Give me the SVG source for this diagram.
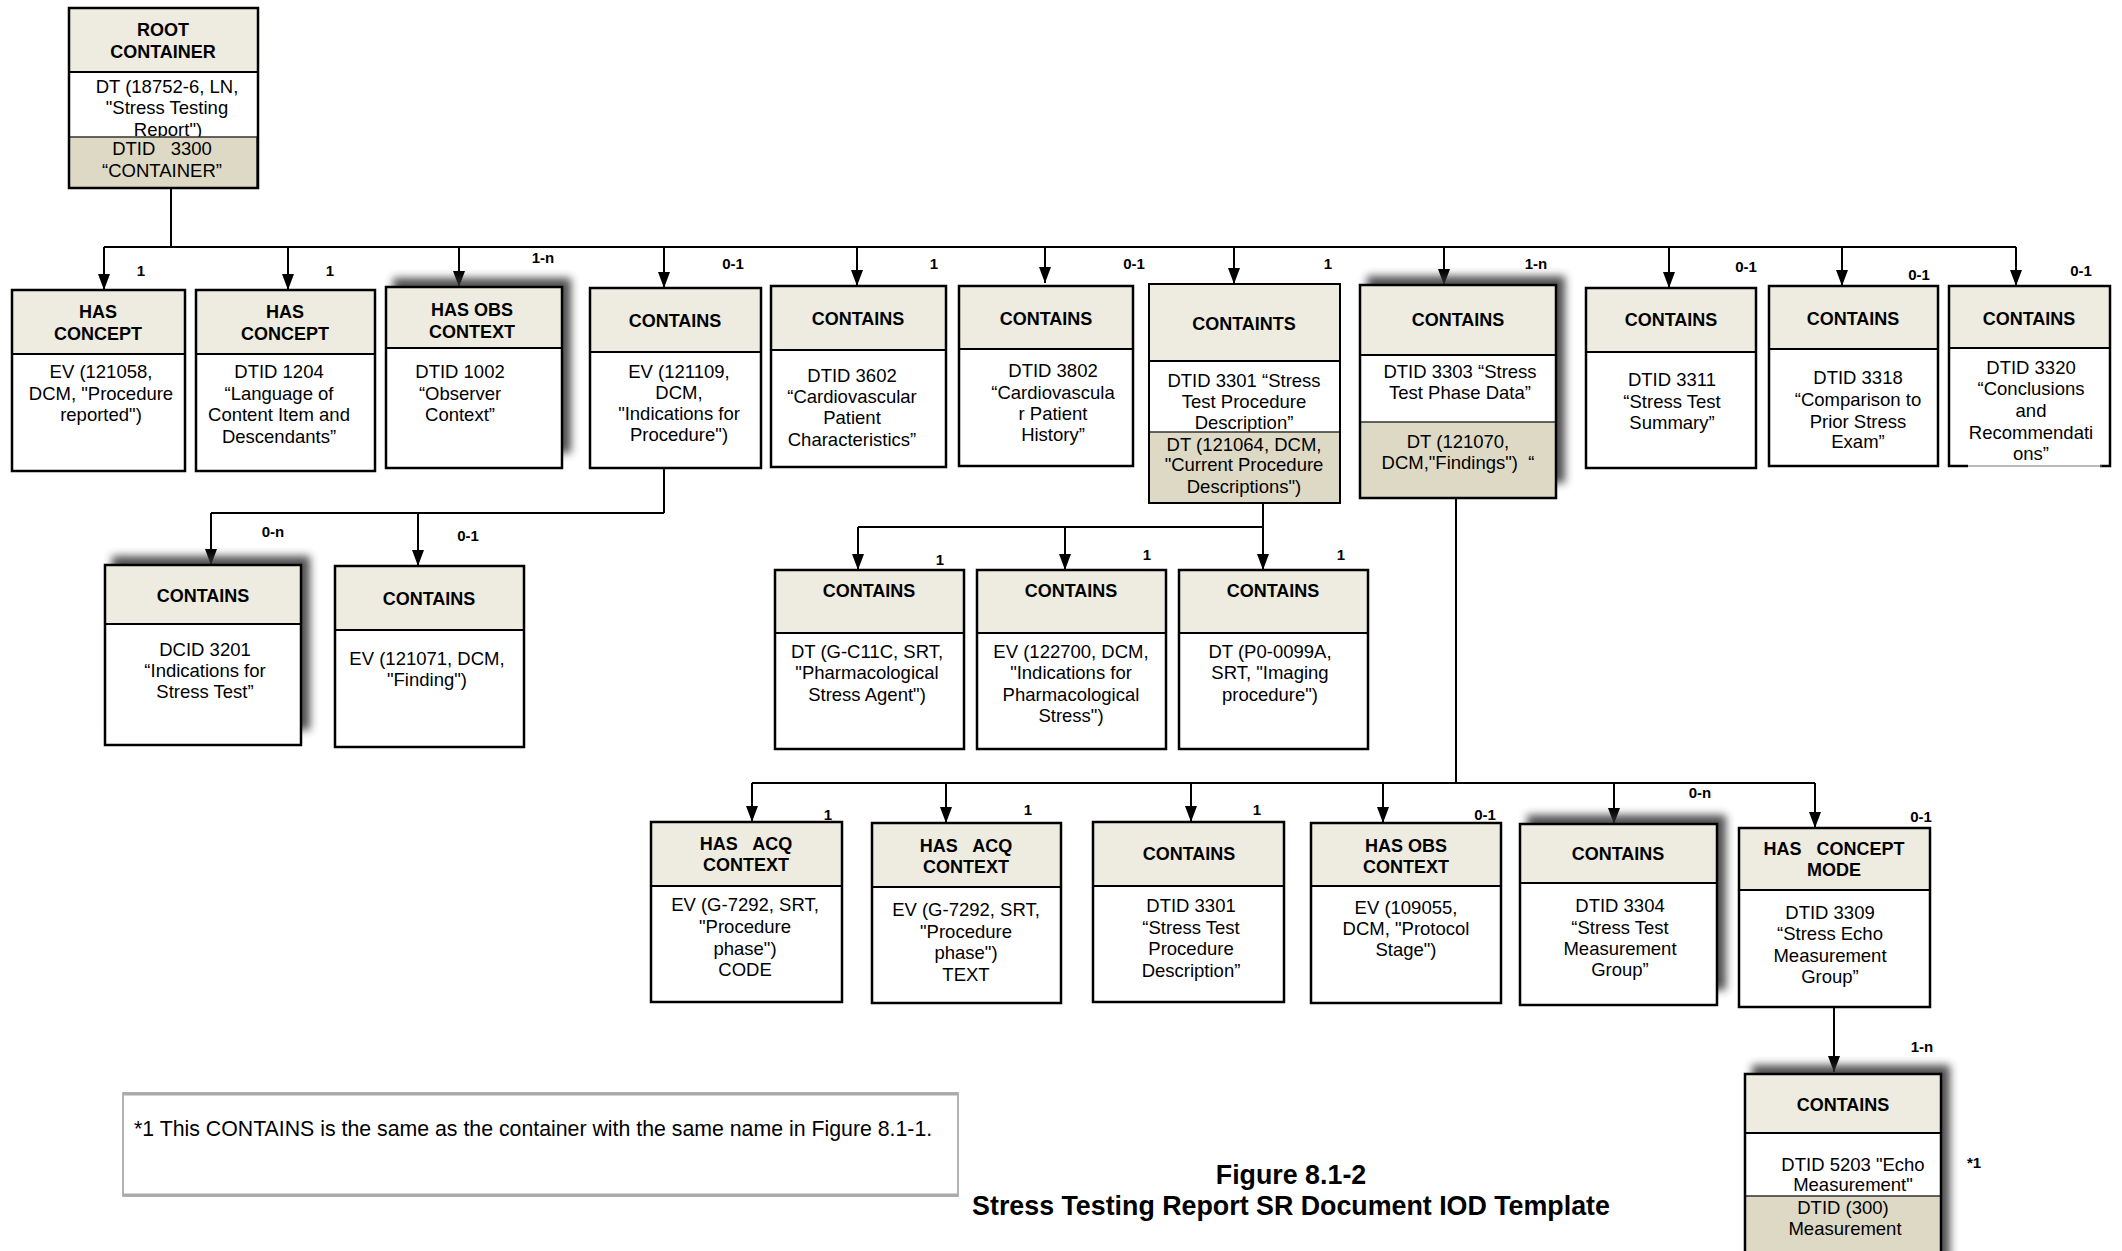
<svg xmlns="http://www.w3.org/2000/svg" width="2122" height="1251" viewBox="0 0 2122 1251">
<style>
.bg{fill:#fff}
.hd{fill:#EEECE1;stroke:#000;stroke-width:2}
.gr{fill:#DDD9C4;stroke:#333;stroke-width:1.5}
.bx{fill:none;stroke:#000;stroke-width:2.5}
.sh{fill:#333;opacity:.85}
.h{font-family:"Liberation Sans",Arial,sans-serif;font-weight:bold;font-size:18px;text-anchor:middle;fill:#000}
.t{font-family:"Liberation Sans",Arial,sans-serif;font-size:18.5px;text-anchor:middle;fill:#000}
.lb{font-family:"Liberation Sans",Arial,sans-serif;font-weight:bold;font-size:15px;text-anchor:middle;fill:#000}
.note{font-family:"Liberation Sans",Arial,sans-serif;font-size:21.3px;fill:#000}
.title{font-family:"Liberation Sans",Arial,sans-serif;font-weight:bold;font-size:26.8px;text-anchor:middle;fill:#000}
.cn{stroke:#000;stroke-width:2;fill:none}
</style>
<defs>
<filter id="blur" x="-20%" y="-20%" width="140%" height="140%"><feGaussianBlur stdDeviation="4"/></filter>
<marker id="arr" viewBox="0 0 16 12" refX="16" refY="6" markerWidth="16" markerHeight="12" markerUnits="userSpaceOnUse" orient="auto"><path d="M0,0 L16,6 L0,12 z" fill="#000"/></marker>
</defs>
<rect width="2122" height="1251" fill="#fff"/>

<g id="connectors" class="cn">
<path d="M171,188 V247 M104,247 H2016"/>
<line x1="104" y1="247" x2="104" y2="290" marker-end="url(#arr)"/>
<line x1="288" y1="247" x2="288" y2="290" marker-end="url(#arr)"/>
<line x1="459" y1="247" x2="459" y2="287" marker-end="url(#arr)"/>
<line x1="664" y1="247" x2="664" y2="288" marker-end="url(#arr)"/>
<line x1="857" y1="247" x2="857" y2="286" marker-end="url(#arr)"/>
<line x1="1045" y1="247" x2="1045" y2="283" marker-end="url(#arr)"/>
<line x1="1234" y1="247" x2="1234" y2="284" marker-end="url(#arr)"/>
<line x1="1444" y1="247" x2="1444" y2="285" marker-end="url(#arr)"/>
<line x1="1669" y1="247" x2="1669" y2="288" marker-end="url(#arr)"/>
<line x1="1842" y1="247" x2="1842" y2="286" marker-end="url(#arr)"/>
<line x1="2016" y1="247" x2="2016" y2="286" marker-end="url(#arr)"/>
<path d="M664,468 V513 M211,513 H664"/>
<line x1="211" y1="513" x2="211" y2="565" marker-end="url(#arr)"/>
<line x1="418" y1="513" x2="418" y2="566" marker-end="url(#arr)"/>
<path d="M1263,503 V527 M858,527 H1263"/>
<line x1="858" y1="527" x2="858" y2="570" marker-end="url(#arr)"/>
<line x1="1065" y1="527" x2="1065" y2="570" marker-end="url(#arr)"/>
<line x1="1263" y1="527" x2="1263" y2="570" marker-end="url(#arr)"/>
<path d="M1456,498 V783 M752,783 H1815"/>
<line x1="752" y1="783" x2="752" y2="822" marker-end="url(#arr)"/>
<line x1="946" y1="783" x2="946" y2="823" marker-end="url(#arr)"/>
<line x1="1191" y1="783" x2="1191" y2="822" marker-end="url(#arr)"/>
<line x1="1383" y1="783" x2="1383" y2="823" marker-end="url(#arr)"/>
<line x1="1614" y1="783" x2="1614" y2="824" marker-end="url(#arr)"/>
<line x1="1815" y1="783" x2="1815" y2="828" marker-end="url(#arr)"/>
<line x1="1834" y1="1007" x2="1834" y2="1072" marker-end="url(#arr)"/>
</g>

<g id="labels">
<text class="lb" x="141" y="276">1</text>
<text class="lb" x="330" y="276">1</text>
<text class="lb" x="543" y="263">1-n</text>
<text class="lb" x="733" y="269">0-1</text>
<text class="lb" x="934" y="269">1</text>
<text class="lb" x="1134" y="269">0-1</text>
<text class="lb" x="1328" y="269">1</text>
<text class="lb" x="1536" y="269">1-n</text>
<text class="lb" x="1746" y="272">0-1</text>
<text class="lb" x="1919" y="280">0-1</text>
<text class="lb" x="2081" y="276">0-1</text>
<text class="lb" x="273" y="537">0-n</text>
<text class="lb" x="468" y="541">0-1</text>
<text class="lb" x="940" y="565">1</text>
<text class="lb" x="1147" y="560">1</text>
<text class="lb" x="1341" y="560">1</text>
<text class="lb" x="828" y="820">1</text>
<text class="lb" x="1028" y="815">1</text>
<text class="lb" x="1257" y="815">1</text>
<text class="lb" x="1485" y="820">0-1</text>
<text class="lb" x="1700" y="798">0-n</text>
<text class="lb" x="1921" y="822">0-1</text>
<text class="lb" x="1922" y="1052">1-n</text>
<text class="lb" x="1974" y="1168">*1</text>
</g>

<g id="root">
<rect class="bg" x="69" y="8" width="189" height="180"/>
<rect class="hd" x="69" y="8" width="189" height="64"/>
<text class="h" x="163" y="36">ROOT</text>
<text class="h" x="163" y="58">CONTAINER</text>
<text class="t" x="167" y="93">DT (18752-6, LN,</text>
<text class="t" x="167" y="114">"Stress Testing</text>
<text class="t" x="168" y="136">Report")</text>
<rect class="gr" x="69" y="137" width="188" height="51"/>
<text class="t" x="162" y="155">DTID&#160;&#160; 3300</text>
<text class="t" x="162" y="177">“CONTAINER”</text>
<rect class="bx" x="69" y="8" width="189" height="180"/>
</g>

<g id="n1">
<rect class="bg" x="12" y="290" width="173" height="181"/>
<rect class="hd" x="12" y="290" width="173" height="64"/>
<text class="h" x="98" y="318">HAS</text>
<text class="h" x="98" y="340">CONCEPT</text>
<text class="t" x="101" y="378">EV (121058,</text>
<text class="t" x="101" y="400">DCM, "Procedure</text>
<text class="t" x="101" y="421">reported")</text>
<rect class="bx" x="12" y="290" width="173" height="181"/>
</g>

<g id="n2">
<rect class="bg" x="196" y="290" width="179" height="181"/>
<rect class="hd" x="196" y="290" width="179" height="64"/>
<text class="h" x="285" y="318">HAS</text>
<text class="h" x="285" y="340">CONCEPT</text>
<text class="t" x="279" y="378">DTID 1204</text>
<text class="t" x="279" y="400">“Language of</text>
<text class="t" x="279" y="421">Content Item and</text>
<text class="t" x="279" y="443">Descendants”</text>
<rect class="bx" x="196" y="290" width="179" height="181"/>
</g>

<g id="n3">
<rect class="sh" x="393" y="278" width="178" height="175" filter="url(#blur)"/>
<rect class="bg" x="386" y="287" width="176" height="181"/>
<rect class="hd" x="386" y="287" width="176" height="61"/>
<text class="h" x="472" y="316">HAS OBS</text>
<text class="h" x="472" y="338">CONTEXT</text>
<text class="t" x="460" y="378">DTID 1002</text>
<text class="t" x="460" y="400">“Observer</text>
<text class="t" x="460" y="421">Context”</text>
<rect class="bx" x="386" y="287" width="176" height="181"/>
</g>

<g id="n4">
<rect class="bg" x="590" y="288" width="171" height="180"/>
<rect class="hd" x="590" y="288" width="171" height="64"/>
<text class="h" x="675" y="327">CONTAINS</text>
<text class="t" x="679" y="378">EV (121109,</text>
<text class="t" x="679" y="399">DCM,</text>
<text class="t" x="679" y="420">"Indications for</text>
<text class="t" x="679" y="441">Procedure")</text>
<rect class="bx" x="590" y="288" width="171" height="180"/>
</g>

<g id="n5">
<rect class="bg" x="771" y="286" width="175" height="181"/>
<rect class="hd" x="771" y="286" width="175" height="64"/>
<text class="h" x="858" y="325">CONTAINS</text>
<text class="t" x="852" y="382">DTID 3602</text>
<text class="t" x="852" y="403">“Cardiovascular</text>
<text class="t" x="852" y="424">Patient</text>
<text class="t" x="852" y="446">Characteristics”</text>
<rect class="bx" x="771" y="286" width="175" height="181"/>
</g>

<g id="n6">
<rect class="bg" x="959" y="286" width="174" height="180"/>
<rect class="hd" x="959" y="286" width="174" height="63"/>
<text class="h" x="1046" y="325">CONTAINS</text>
<text class="t" x="1053" y="377">DTID 3802</text>
<text class="t" x="1053" y="399">“Cardiovascula</text>
<text class="t" x="1053" y="420">r Patient</text>
<text class="t" x="1053" y="441">History”</text>
<rect class="bx" x="959" y="286" width="174" height="180"/>
</g>

<g id="n7">
<rect class="bg" x="1149" y="284" width="191" height="219"/>
<rect class="hd" x="1149" y="284" width="191" height="77"/>
<text class="h" x="1244" y="330">CONTAINTS</text>
<text class="t" x="1244" y="387">DTID 3301 “Stress</text>
<text class="t" x="1244" y="408">Test Procedure</text>
<text class="t" x="1244" y="429">Description”</text>
<rect class="gr" x="1149" y="432" width="191" height="71"/>
<text class="t" x="1244" y="451">DT (121064, DCM,</text>
<text class="t" x="1244" y="471">"Current Procedure</text>
<text class="t" x="1244" y="493">Descriptions")</text>
<rect class="bx" x="1149" y="284" width="191" height="219" style="stroke-width:2"/>
</g>

<g id="n8">
<rect class="sh" x="1367" y="276" width="198" height="207" filter="url(#blur)"/>
<rect class="bg" x="1360" y="285" width="196" height="213"/>
<rect class="hd" x="1360" y="285" width="196" height="70"/>
<text class="h" x="1458" y="326">CONTAINS</text>
<text class="t" x="1460" y="378">DTID 3303 “Stress</text>
<text class="t" x="1460" y="399">Test Phase Data”</text>
<rect class="gr" x="1360" y="422" width="196" height="76"/>
<text class="t" x="1458" y="448">DT (121070,</text>
<text class="t" x="1458" y="469">DCM,"Findings")&#160; “</text>
<rect class="bx" x="1360" y="285" width="196" height="213"/>
</g>

<g id="n9">
<rect class="bg" x="1586" y="288" width="170" height="180"/>
<rect class="hd" x="1586" y="288" width="170" height="64"/>
<text class="h" x="1671" y="326">CONTAINS</text>
<text class="t" x="1672" y="386">DTID 3311</text>
<text class="t" x="1672" y="408">“Stress Test</text>
<text class="t" x="1672" y="429">Summary”</text>
<rect class="bx" x="1586" y="288" width="170" height="180"/>
</g>

<g id="n10">
<rect class="bg" x="1769" y="286" width="169" height="180"/>
<rect class="hd" x="1769" y="286" width="169" height="63"/>
<text class="h" x="1853" y="325">CONTAINS</text>
<text class="t" x="1858" y="384">DTID 3318</text>
<text class="t" x="1858" y="406">“Comparison to</text>
<text class="t" x="1858" y="428">Prior Stress</text>
<text class="t" x="1858" y="448">Exam”</text>
<rect class="bx" x="1769" y="286" width="169" height="180"/>
</g>

<g id="n11">
<rect class="bg" x="1949" y="286" width="161" height="180"/>
<rect class="hd" x="1949" y="286" width="161" height="62"/>
<text class="h" x="2029" y="325">CONTAINS</text>
<rect class="bx" x="1949" y="286" width="161" height="180"/>
<rect class="bg" x="1968" y="462" width="132" height="6"/>
<line x1="1968" y1="466" x2="2102" y2="466" stroke="#777" stroke-width="1"/>
<text class="t" x="2031" y="374">DTID 3320</text>
<text class="t" x="2031" y="395">“Conclusions</text>
<text class="t" x="2031" y="417">and</text>
<text class="t" x="2031" y="439">Recommendati</text>
<text class="t" x="2031" y="460">ons”</text>
</g>

<g id="nA">
<rect class="sh" x="112" y="556" width="198" height="174" filter="url(#blur)"/>
<rect class="bg" x="105" y="565" width="196" height="180"/>
<rect class="hd" x="105" y="565" width="196" height="59"/>
<text class="h" x="203" y="602">CONTAINS</text>
<text class="t" x="205" y="656">DCID 3201</text>
<text class="t" x="205" y="677">“Indications for</text>
<text class="t" x="205" y="698">Stress Test”</text>
<rect class="bx" x="105" y="565" width="196" height="180"/>
</g>

<g id="nB">
<rect class="bg" x="335" y="566" width="189" height="181"/>
<rect class="hd" x="335" y="566" width="189" height="64"/>
<text class="h" x="429" y="605">CONTAINS</text>
<text class="t" x="427" y="665">EV (121071, DCM,</text>
<text class="t" x="427" y="686">"Finding")</text>
<rect class="bx" x="335" y="566" width="189" height="181"/>
</g>

<g id="nC">
<rect class="bg" x="775" y="570" width="189" height="179"/>
<rect class="hd" x="775" y="570" width="189" height="63"/>
<text class="h" x="869" y="597">CONTAINS</text>
<text class="t" x="867" y="658">DT (G-C11C, SRT,</text>
<text class="t" x="867" y="679">"Pharmacological</text>
<text class="t" x="867" y="701">Stress Agent")</text>
<rect class="bx" x="775" y="570" width="189" height="179"/>
</g>

<g id="nD">
<rect class="bg" x="977" y="570" width="189" height="179"/>
<rect class="hd" x="977" y="570" width="189" height="63"/>
<text class="h" x="1071" y="597">CONTAINS</text>
<text class="t" x="1071" y="658">EV (122700, DCM,</text>
<text class="t" x="1071" y="679">"Indications for</text>
<text class="t" x="1071" y="701">Pharmacological</text>
<text class="t" x="1071" y="722">Stress")</text>
<rect class="bx" x="977" y="570" width="189" height="179"/>
</g>

<g id="nE">
<rect class="bg" x="1179" y="570" width="189" height="179"/>
<rect class="hd" x="1179" y="570" width="189" height="63"/>
<text class="h" x="1273" y="597">CONTAINS</text>
<text class="t" x="1270" y="658">DT (P0-0099A,</text>
<text class="t" x="1270" y="679">SRT, "Imaging</text>
<text class="t" x="1270" y="701">procedure")</text>
<rect class="bx" x="1179" y="570" width="189" height="179"/>
</g>

<g id="nF">
<rect class="bg" x="651" y="822" width="191" height="180"/>
<rect class="hd" x="651" y="822" width="191" height="64"/>
<text class="h" x="746" y="850">HAS&#160;&#160; ACQ</text>
<text class="h" x="746" y="871">CONTEXT</text>
<text class="t" x="745" y="911">EV (G-7292, SRT,</text>
<text class="t" x="745" y="933">"Procedure</text>
<text class="t" x="745" y="955">phase")</text>
<text class="t" x="745" y="976">CODE</text>
<rect class="bx" x="651" y="822" width="191" height="180"/>
</g>

<g id="nG">
<rect class="bg" x="872" y="823" width="189" height="180"/>
<rect class="hd" x="872" y="823" width="189" height="64"/>
<text class="h" x="966" y="852">HAS&#160;&#160; ACQ</text>
<text class="h" x="966" y="873">CONTEXT</text>
<text class="t" x="966" y="916">EV (G-7292, SRT,</text>
<text class="t" x="966" y="938">"Procedure</text>
<text class="t" x="966" y="959">phase")</text>
<text class="t" x="966" y="981">TEXT</text>
<rect class="bx" x="872" y="823" width="189" height="180"/>
</g>

<g id="nH">
<rect class="bg" x="1093" y="822" width="191" height="180"/>
<rect class="hd" x="1093" y="822" width="191" height="64"/>
<text class="h" x="1189" y="860">CONTAINS</text>
<text class="t" x="1191" y="912">DTID 3301</text>
<text class="t" x="1191" y="934">“Stress Test</text>
<text class="t" x="1191" y="955">Procedure</text>
<text class="t" x="1191" y="977">Description”</text>
<rect class="bx" x="1093" y="822" width="191" height="180"/>
</g>

<g id="nI">
<rect class="bg" x="1311" y="823" width="190" height="180"/>
<rect class="hd" x="1311" y="823" width="190" height="63"/>
<text class="h" x="1406" y="852">HAS OBS</text>
<text class="h" x="1406" y="873">CONTEXT</text>
<text class="t" x="1406" y="914">EV (109055,</text>
<text class="t" x="1406" y="935">DCM, "Protocol</text>
<text class="t" x="1406" y="956">Stage")</text>
<rect class="bx" x="1311" y="823" width="190" height="180"/>
</g>

<g id="nJ">
<rect class="sh" x="1527" y="815" width="199" height="175" filter="url(#blur)"/>
<rect class="bg" x="1520" y="824" width="197" height="181"/>
<rect class="hd" x="1520" y="824" width="197" height="59"/>
<text class="h" x="1618" y="860">CONTAINS</text>
<text class="t" x="1620" y="912">DTID 3304</text>
<text class="t" x="1620" y="934">“Stress Test</text>
<text class="t" x="1620" y="955">Measurement</text>
<text class="t" x="1620" y="976">Group”</text>
<rect class="bx" x="1520" y="824" width="197" height="181"/>
</g>

<g id="nK">
<rect class="bg" x="1739" y="828" width="191" height="179"/>
<rect class="hd" x="1739" y="828" width="191" height="62"/>
<text class="h" x="1834" y="855">HAS&#160;&#160; CONCEPT</text>
<text class="h" x="1834" y="876">MODE</text>
<text class="t" x="1830" y="919">DTID 3309</text>
<text class="t" x="1830" y="940">“Stress Echo</text>
<text class="t" x="1830" y="962">Measurement</text>
<text class="t" x="1830" y="983">Group”</text>
<rect class="bx" x="1739" y="828" width="191" height="179"/>
</g>

<g id="nL">
<rect class="sh" x="1752" y="1065" width="198" height="200" filter="url(#blur)"/>
<rect class="bg" x="1745" y="1074" width="196" height="190"/>
<rect class="hd" x="1745" y="1074" width="196" height="59"/>
<text class="h" x="1843" y="1111">CONTAINS</text>
<text class="t" x="1853" y="1171">DTID 5203 "Echo</text>
<text class="t" x="1853" y="1191">Measurement"</text>
<rect class="gr" x="1745" y="1196" width="196" height="68"/>
<text class="t" x="1843" y="1214">DTID (300)</text>
<text class="t" x="1845" y="1235">Measurement</text>
<rect class="bx" x="1745" y="1074" width="196" height="190"/>
</g>

<g id="note">
<rect x="123" y="1093" width="835" height="103" fill="#fff" stroke="#999" stroke-width="1.5"/>
<line x1="123" y1="1094" x2="958" y2="1094" stroke="#aaa" stroke-width="3"/>
<line x1="123" y1="1195" x2="958" y2="1195" stroke="#aaa" stroke-width="3"/>
<text class="note" x="134" y="1136">*1 This CONTAINS is the same as the container with the same name in Figure 8.1-1.</text>
</g>

<g id="title">
<text class="title" x="1291" y="1184">Figure 8.1-2</text>
<text class="title" x="1291" y="1215">Stress Testing Report SR Document IOD Template</text>
</g>
</svg>
